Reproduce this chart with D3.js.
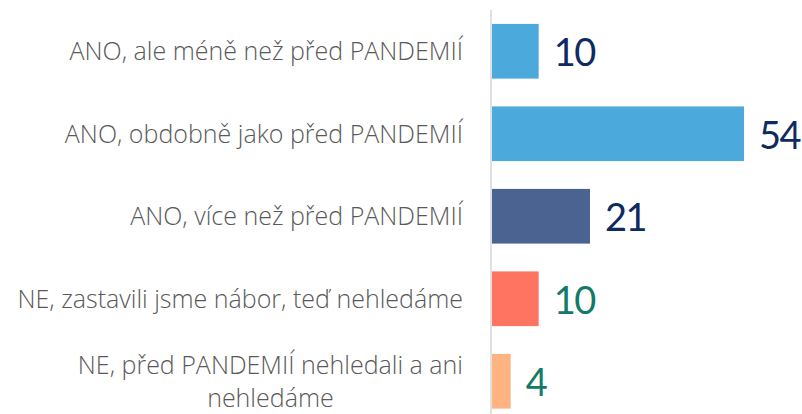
<!DOCTYPE html>
<html lang="cs">
<head>
    <meta charset="UTF-8">
    <title>Nábor</title>
    <script src="https://d3js.org/d3.v7.min.js"></script>
    <style>
        body {
            margin: 0;
            background: #ffffff;
        }
        svg {
            display: block;
        }
        .cat {
            font-family: 'Open Sans', sans-serif;
            font-weight: 300;
            font-size: 25px;
            fill: #595959;
        }
        .val {
            font-family: 'Lato', sans-serif;
            font-size: 38px;
            letter-spacing: -1.5px;
        }
    </style>
</head>
<body>
    <svg width="802" height="414"></svg>

    <script>
        // data
        const categories = [
            "ANO, ale méně než před PANDEMIÍ",
            "ANO, obdobně jako před PANDEMIÍ",
            "ANO, více než před PANDEMIÍ",
            "NE, zastavili jsme nábor, teď nehledáme",
            "NE, před PANDEMIÍ nehledali a ani nehledáme"
        ];
        const values = [10, 54, 21, 10, 4];
        const barColors = ["#4baadb", "#4baadb", "#4a6390", "#ff7361", "#ffb380"];
        const labelColors = ["#0e2a5f", "#0e2a5f", "#0e2a5f", "#137a68", "#137a68"];

        const svg = d3.select("svg");

        const x = d3.scaleLinear()
            .domain([0, d3.max(values)])
            .range([492, 744]);

        const y = d3.scaleBand()
            .domain(categories)
            .range([10, 422.5])
            .paddingInner(0.337)
            .paddingOuter(0.1685);

        // vertical axis line
        svg.append("line")
            .attr("x1", 491).attr("x2", 491)
            .attr("y1", y.range()[0]).attr("y2", y.range()[1])
            .attr("stroke", "#d9d9d9")
            .attr("stroke-width", 1.6);

        // bars
        svg.selectAll(".bar")
            .data(values)
            .enter()
            .append("rect")
            .attr("class", "bar")
            .attr("x", x(0))
            .attr("y", (d, i) => y(categories[i]))
            .attr("width", d => x(d) - x(0))
            .attr("height", y.bandwidth())
            .attr("fill", (d, i) => barColors[i]);

        // value labels
        svg.selectAll(".val")
            .data(values)
            .enter()
            .append("text")
            .attr("class", "val")
            .attr("x", d => x(d) + 15)
            .attr("y", (d, i) => y(categories[i]) + y.bandwidth() / 2 + 15)
            .attr("fill", (d, i) => labelColors[i])
            .text(d => d);

        // category labels, wrapped, right aligned block, centered lines
        const rightEdge = 463, maxW = 458, lineH = 33;
        categories.forEach((c, i) => {
            const t = svg.append("text").attr("class", "cat");
            const words = c.split(" ");
            let lines = [], cur = [];
            words.forEach(w => {
                cur.push(w);
                t.text(cur.join(" "));
                if (t.node().getComputedTextLength() > maxW && cur.length > 1) {
                    cur.pop();
                    lines.push(cur.join(" "));
                    cur = [w];
                }
            });
            lines.push(cur.join(" "));
            t.text(null);

            const widths = lines.map(l => {
                t.text(l);
                const w = t.node().getComputedTextLength();
                t.text(null);
                return w;
            });
            const blockW = d3.max(widths);
            const cy = y(c) + y.bandwidth() / 2;
            const base0 = cy + 9 - (lines.length - 1) * lineH / 2;

            if (lines.length === 1) {
                t.attr("text-anchor", "end")
                    .attr("x", rightEdge)
                    .attr("y", base0)
                    .text(lines[0]);
            } else {
                t.attr("text-anchor", "middle");
                lines.forEach((l, k) => {
                    t.append("tspan")
                        .attr("x", rightEdge - blockW / 2)
                        .attr("y", base0 + k * lineH)
                        .text(l);
                });
            }
        });
    </script>
</body>
</html>
